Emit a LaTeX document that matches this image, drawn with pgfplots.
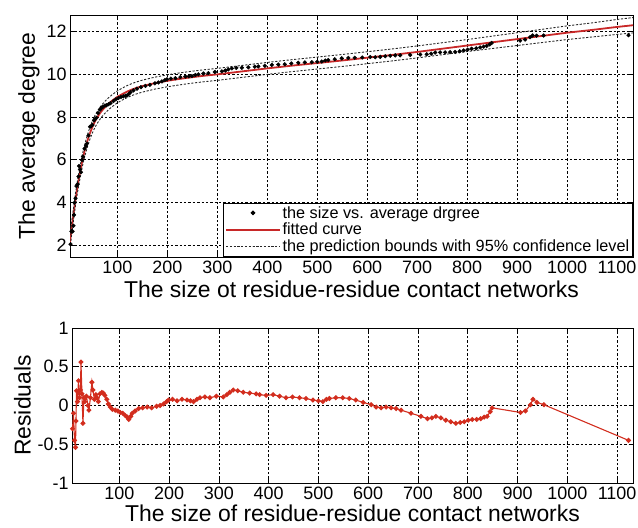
\documentclass[border=0pt]{standalone}
\usepackage{fontspec}
\setmainfont{Liberation Sans}
\usepackage{pgfplots}
\usepackage{pgfplotstable}
\pgfplotsset{compat=1.18}

\definecolor{fitred}{RGB}{200,40,40}
\definecolor{resred}{RGB}{210,45,30}

% size, average degree, residual
\pgfplotstableread{
x y r
6 2.05 -0.30
8 2.65 -0.10
10 2.65 -0.45
12 2.91 -0.54
13 3.42 -0.20
14 3.99 0.19
16 4.20 0.05
18 4.77 0.32
20 4.85 0.10
22 5.22 0.20
23 5.71 0.56
25 5.55 0.15
27 5.42 -0.23
29 5.99 0.10
31 6.15 0.05
34 6.52 0.12
37 6.65 0.00
39 6.76 -0.06
42 7.14 0.10
45 7.55 0.30
47 7.57 0.20
50 7.63 0.08
53 7.84 0.14
55 7.90 0.10
58 7.97 0.05
61 8.19 0.15
65 8.35 0.17
68 8.43 0.16
71 8.49 0.13
75 8.54 0.08
78 8.55 0.02
82 8.60 -0.02
86 8.65 -0.05
92 8.75 -0.06
97 8.83 -0.07
102 8.89 -0.09
107 8.94 -0.10
112 8.97 -0.13
116 9.00 -0.15
119 9.01 -0.18
123 9.09 -0.14
126 9.16 -0.10
132 9.25 -0.07
139 9.33 -0.04
147 9.40 -0.03
156 9.46 -0.02
165 9.51 -0.03
175 9.58 -0.01
182 9.62 0.00
189 9.67 0.02
195 9.73 0.05
199 9.77 0.07
207 9.80 0.08
216 9.82 0.06
226 9.87 0.08
236 9.90 0.07
243 9.91 0.06
249 9.92 0.05
256 9.97 0.08
262 10.00 0.10
272 10.04 0.11
282 10.06 0.10
295 10.11 0.12
309 10.14 0.11
316 10.18 0.14
322 10.23 0.17
329 10.28 0.20
338 10.30 0.19
349 10.31 0.17
362 10.33 0.16
375 10.36 0.15
382 10.37 0.14
395 10.40 0.13
409 10.44 0.14
422 10.46 0.12
435 10.47 0.10
448 10.51 0.11
462 10.54 0.10
475 10.56 0.09
489 10.57 0.07
500 10.59 0.06
509 10.60 0.05
516 10.65 0.08
522 10.67 0.09
535 10.71 0.10
549 10.75 0.10
562 10.77 0.09
575 10.78 0.07
590 10.79 0.04
606 10.81 0.01
616 10.80 -0.02
626 10.82 -0.03
636 10.85 -0.02
646 10.87 -0.03
656 10.89 -0.04
666 10.89 -0.06
686 10.91 -0.10
706 10.93 -0.14
719 10.94 -0.17
728 10.97 -0.16
736 11.02 -0.14
746 11.03 -0.16
756 11.03 -0.19
766 11.04 -0.21
776 11.05 -0.23
785 11.08 -0.22
793 11.12 -0.21
801 11.16 -0.19
809 11.20 -0.18
818 11.22 -0.18
826 11.26 -0.17
833 11.30 -0.15
839 11.33 -0.14
845 11.40 -0.08
849 11.47 -0.03
906 11.58 -0.09
916 11.63 -0.07
926 11.74 0.01
931 11.82 0.08
939 11.81 0.04
953 11.82 0.01
1123 11.83 -0.45
}\sizedata

% fitted curve with prediction bounds
\pgfplotstableread{
x f lo hi
5 2.15 1.85 2.47
6 2.35 2.04 2.66
8 2.75 2.45 3.05
10 3.10 2.81 3.39
12 3.45 3.17 3.73
14 3.80 3.52 4.08
16 4.15 3.87 4.43
18 4.45 4.17 4.73
20 4.75 4.47 5.03
22 5.02 4.74 5.30
25 5.40 5.12 5.68
27 5.65 5.37 5.93
30 6.00 5.72 6.28
34 6.40 6.12 6.68
37 6.65 6.37 6.93
40 6.90 6.62 7.18
45 7.25 6.97 7.53
50 7.55 7.27 7.83
55 7.80 7.52 8.08
60 8.00 7.72 8.28
65 8.18 7.90 8.46
70 8.33 8.05 8.61
75 8.46 8.18 8.74
80 8.58 8.30 8.86
90 8.78 8.50 9.06
100 8.95 8.67 9.23
110 9.08 8.80 9.36
120 9.20 8.92 9.48
130 9.30 9.02 9.58
140 9.38 9.10 9.66
150 9.45 9.17 9.73
175 9.59 9.31 9.87
200 9.70 9.42 9.98
225 9.79 9.51 10.07
250 9.87 9.59 10.15
275 9.94 9.66 10.22
300 10.00 9.72 10.28
350 10.14 9.86 10.42
400 10.28 10.00 10.56
450 10.41 10.13 10.69
500 10.53 10.25 10.81
550 10.65 10.37 10.93
600 10.78 10.50 11.06
650 10.91 10.63 11.19
700 11.05 10.77 11.33
750 11.20 10.92 11.48
800 11.35 11.07 11.63
850 11.50 11.21 11.79
900 11.65 11.35 11.95
950 11.80 11.49 12.11
1000 11.95 11.63 12.27
1050 12.08 11.75 12.41
1100 12.22 11.87 12.57
1132 12.30 11.94 12.66
}\fitdata

\pgfplotsset{
  matlab/.style={
    scale only axis,
    xmin=5, xmax=1132,
    xtick={100,200,...,1100},
    tick pos=both, tick align=inside,
    major tick length=4bp,
    axis line style={line width=0.9pt},
    every tick/.style={black, line width=0.7pt},
    grid=major,
    major grid style={black, line width=0.7pt, dash pattern=on 2.4pt off 2pt},
    /pgf/number format/assume math mode=true,
    /pgf/number format/1000 sep={},
    tick label style={font=\fontsize{18}{21}\selectfont},
    label style={font=\fontsize{23}{26}\selectfont},
    scaled ticks=false,
  },
}

\begin{document}
\begin{tikzpicture}[x=1bp,y=1bp]
\path[use as bounding box] (0,0) rectangle (638,528);

\begin{axis}[matlab,
  at={(70bp,271bp)}, anchor=south west,
  width=563bp, height=242bp,
  ymin=1.45, ymax=12.78,
  ytick={2,4,...,12},
  xlabel={The size ot residue-residue contact networks},
  ylabel={The average degree},
  xlabel style={yshift=-1bp},
  ylabel style={yshift=0bp},
  legend style={at={(1,0)}, anchor=south east, draw=black, line width=0.9pt,
    font=\fontsize{16.3}{18}\selectfont, row sep=0bp, inner sep=1.5bp,
    nodes={inner sep=1.8bp}},
  legend cell align=left,
  legend image code/.code={\draw[mark repeat=2,mark phase=2,#1]
    plot coordinates {(0cm,0cm) (0.95cm,0cm) (1.9cm,0cm)};},
]
\addplot[only marks, mark=*, mark size=1.9pt, black] table[x=x,y=y] {\sizedata};
\addlegendentry{the size vs. average drgree}
\addplot[fitred, line width=1.8pt, no marks] table[x=x,y=f] {\fitdata};
\addlegendentry{fitted curve}
\addplot[black!85, line width=0.9pt, dash pattern=on 2.2pt off 1.6pt, no marks] table[x=x,y=hi] {\fitdata};
\addlegendentry{the prediction bounds with 95\% confidence level}
\addplot[black!85, line width=0.9pt, dash pattern=on 2.2pt off 1.6pt, no marks, forget plot] table[x=x,y=lo] {\fitdata};
\end{axis}

\begin{axis}[matlab,
  at={(72bp,45bp)}, anchor=south west,
  width=561bp, height=155bp,
  ymin=-1, ymax=1,
  ytick={-1,-0.5,0,0.5,1},
  xlabel={The size of residue-residue contact networks},
  ylabel={Residuals},
  xlabel style={yshift=1bp},
  ylabel style={yshift=0bp},
]
\addplot[resred, line width=1.1pt, mark=*, mark size=1.9pt, mark options={fill=resred}] table[x=x,y=r] {\sizedata};
\end{axis}
\end{tikzpicture}
\end{document}
